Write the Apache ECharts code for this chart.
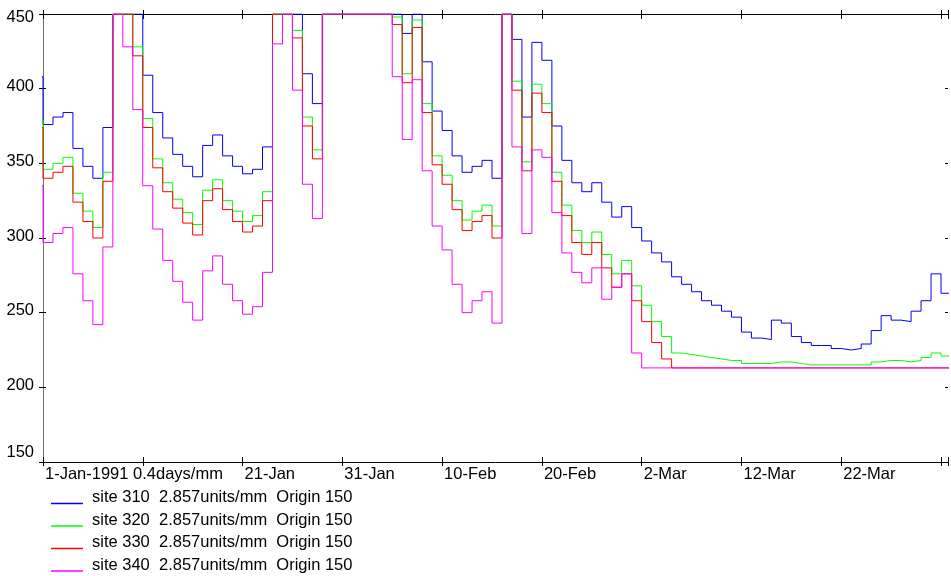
<!DOCTYPE html>
<html>
<head>
<meta charset="utf-8">
<script src="https://cdn.jsdelivr.net/npm/echarts@6/dist/echarts.min.js"></script>
<style>
  html, body { margin: 0; padding: 0; background: #fff; }
  #chart { width: 951px; height: 576px; }
</style>
</head>
<body>
<div id="chart"></div>
<script>
// Daily site readings from 31-Dec-1990 (day -1) to 1-Apr-1991 (day 90).
// Readings at or above 450 sit on the top of the scale.
const startDay = -1;

const site310 = [
  408, 376, 381, 384, 360, 348, 340, 374, 450, 450,
  450, 409, 384, 367, 356, 348, 341, 362, 369, 355,
  348, 343, 346, 361, 450, 450, 450, 410, 390, 450,
  450, 450, 450, 450, 450, 450, 450, 437, 450, 418,
  385, 372, 355, 344, 348, 352, 340, 450, 433, 381,
  431, 419, 375, 352, 337, 331, 337, 324, 314, 321,
  307, 298, 290, 284, 274, 269, 264, 258, 255, 251,
  247, 237, 233, 232, 245, 243, 234, 230, 228, 228,
  226, 225, 226, 229, 238, 248, 245, 244, 251, 258,
  276, 263
];

const site320 = [
  379, 346, 350, 354, 330, 318, 307, 344, 450, 450,
  428, 380, 353, 337, 326, 317, 309, 332, 339, 325,
  318, 311, 315, 331, 450, 450, 439, 381, 359, 450,
  450, 450, 450, 450, 450, 450, 448, 410, 446, 390,
  355, 342, 325, 312, 318, 322, 308, 450, 405, 351,
  403, 390, 344, 322, 305, 297, 304, 289, 276, 285,
  268, 255, 244, 234, 223, 222, 221, 220, 219, 218,
  218, 216, 216, 216, 217, 217, 216, 215, 215, 215,
  215, 215, 215, 215, 217, 218, 218, 217, 218, 220,
  223, 221
];

const site330 = [
  374, 340, 344, 348, 324, 311, 300, 338, 450, 450,
  422, 374, 347, 331, 320, 310, 302, 325, 333, 319,
  311, 304, 308, 325, 450, 450, 434, 375, 353, 450,
  450, 450, 450, 450, 450, 450, 443, 404, 441, 384,
  349, 336, 319, 305, 311, 315, 300, 450, 399, 345,
  397, 384, 338, 315, 297, 289, 297, 280, 267, 276,
  258, 244, 230, 219, 213, 213, 213, 213, 213, 213,
  213, 213, 213, 213, 213, 213, 213, 213, 213, 213,
  213, 213, 213, 213, 213, 213, 213, 213, 213, 213,
  213, 213
];

const site340 = [
  335, 297, 303, 307, 276, 258, 242, 294, 450, 428,
  386, 335, 306, 285, 271, 257, 245, 278, 288, 269,
  258, 249, 254, 277, 430, 450, 399, 336, 313, 450,
  450, 450, 450, 450, 450, 450, 408, 366, 406, 345,
  308, 292, 269, 250, 258, 264, 243, 450, 361, 303,
  359, 354, 317, 290, 277, 270, 280, 259, 267, 276,
  223, 213, 213, 213, 213, 213, 213, 213, 213, 213,
  213, 213, 213, 213, 213, 213, 213, 213, 213, 213,
  213, 213, 213, 213, 213, 213, 213, 213, 213, 213,
  213, 213
];

const seriesNames = [
  'site 310  2.857units/mm  Origin 150',
  'site 320  2.857units/mm  Origin 150',
  'site 330  2.857units/mm  Origin 150',
  'site 340  2.857units/mm  Origin 150'
];
const seriesColors = ['#0000ff', '#00ff00', '#ff0000', '#ff00ff'];

// Time axis labels, one per 10-day tick starting 1-Jan-1991
// (the first label also carries the time scale, so the 11-Jan slot stays empty)
const dateTickLabels = ['1-Jan-1991 0.4days/mm', '', '21-Jan', '31-Jan', '10-Feb',
                        '20-Feb', '2-Mar', '12-Mar', '22-Mar', ''];

const FONT = "'Liberation Sans', Arial, sans-serif";
const FS = 16.5;
const X_MIN = 0, X_MAX = 90.7, X_STEP = 10;
const Y_MIN = 150, Y_MAX = 450, Y_STEP = 50;

// Each daily value holds until the next day; close the last day with one more point.
function toSteps(values) {
  const pts = values.map((v, i) => [startDay + i, v]);
  pts.push([startDay + values.length, values[values.length - 1]]);
  return pts;
}

const chart = echarts.init(document.getElementById('chart'), null, { renderer: 'canvas' });

const baseX = { type: 'value', min: X_MIN, max: X_MAX, interval: X_STEP, splitLine: { show: false } };
const baseY = { type: 'value', min: Y_MIN, max: Y_MAX, interval: Y_STEP, splitLine: { show: false } };
const blackTick = { color: '#000', width: 1 };

const option = {
  backgroundColor: '#fff',
  animation: false,
  grid: { left: 43, right: 1, top: 14, bottom: 114, containLabel: false },
  xAxis: [
    Object.assign({}, baseX, {
      position: 'bottom',
      axisLine: { show: true, onZero: false, lineStyle: { color: '#000', width: 1 } },
      axisTick: { show: true, inside: false, length: 4, lineStyle: blackTick },
      axisLabel: {
        show: true, color: '#000', fontFamily: FONT, fontSize: FS,
        align: 'left', verticalAlign: 'top', margin: 4, padding: [0, 0, 0, 2],
        formatter: v => (Math.abs(v % X_STEP) < 1e-9 ? (dateTickLabels[Math.round(v / X_STEP)] || '') : '')
      }
    }),
    Object.assign({}, baseX, {
      position: 'bottom',
      axisLine: { show: false, onZero: false },
      axisTick: { show: true, inside: true, length: 5, lineStyle: blackTick },
      axisLabel: { show: false }
    }),
    Object.assign({}, baseX, {
      position: 'top',
      axisLine: { show: true, onZero: false, lineStyle: { color: '#000', width: 1 } },
      axisTick: { show: true, inside: false, length: 4, lineStyle: blackTick },
      axisLabel: { show: false }
    }),
    Object.assign({}, baseX, {
      position: 'top',
      axisLine: { show: false, onZero: false },
      axisTick: { show: true, inside: true, length: 5, lineStyle: blackTick },
      axisLabel: { show: false }
    })
  ],
  yAxis: [
    Object.assign({}, baseY, {
      position: 'left',
      axisLine: { show: false, onZero: false },
      axisTick: { show: true, inside: true, length: 3, lineStyle: blackTick },
      axisLabel: {
        show: true, color: '#000', fontFamily: FONT, fontSize: FS, margin: 9,
        formatter: v => (v === Y_MIN ? '{lo|' + v + '}' : v === Y_MAX ? '{hi|' + v + '}' : '{n|' + v + '}'),
        rich: {
          n: { fontFamily: FONT, fontSize: FS, color: '#000', padding: [0, 0, 4, 0] },
          lo: { fontFamily: FONT, fontSize: FS, color: '#000', padding: [0, 0, 20, 0] },
          hi: { fontFamily: FONT, fontSize: FS, color: '#000', padding: [6, 0, 0, 0] }
        }
      }
    }),
    // grey left spine with short outward ticks
    Object.assign({}, baseY, {
      position: 'left',
      axisLine: { show: true, onZero: false, lineStyle: { color: '#6e6e6e', width: 1 } },
      axisTick: { show: true, inside: false, length: 4, lineStyle: blackTick },
      axisLabel: { show: false }
    }),
    Object.assign({}, baseY, {
      position: 'right',
      axisLine: { show: false, onZero: false },
      axisTick: { show: true, inside: true, length: 3, lineStyle: blackTick },
      axisLabel: { show: false }
    })
  ],
  legend: seriesNames.map((name, i) => ({
    data: [name],
    left: 51,
    top: 489 + i * 22.5,
    padding: 0,
    icon: 'rect',
    itemWidth: 32,
    itemHeight: 1.5,
    selectedMode: false,
    // name sits on the first of two short lines, so it rides above the sample line
    formatter: n => '{t|' + n + '}\n{s| }',
    textStyle: {
      color: '#000', fontFamily: FONT, fontSize: FS,
      rich: {
        t: { color: '#000', fontFamily: FONT, fontSize: FS, lineHeight: 12, padding: [0, 0, 0, 4] },
        s: { fontSize: 4, lineHeight: 12 }
      }
    }
  })),
  series: [site310, site320, site330, site340].map((vals, i) => ({
    name: seriesNames[i],
    type: 'line',
    step: 'end',
    xAxisIndex: 0,
    yAxisIndex: 0,
    clip: true,
    symbol: 'none',
    showSymbol: false,
    color: seriesColors[i],
    lineStyle: { color: seriesColors[i], width: 1 },
    itemStyle: { color: seriesColors[i] },
    data: toSteps(vals)
  }))
};

chart.setOption(option);
</script>
</body>
</html>
